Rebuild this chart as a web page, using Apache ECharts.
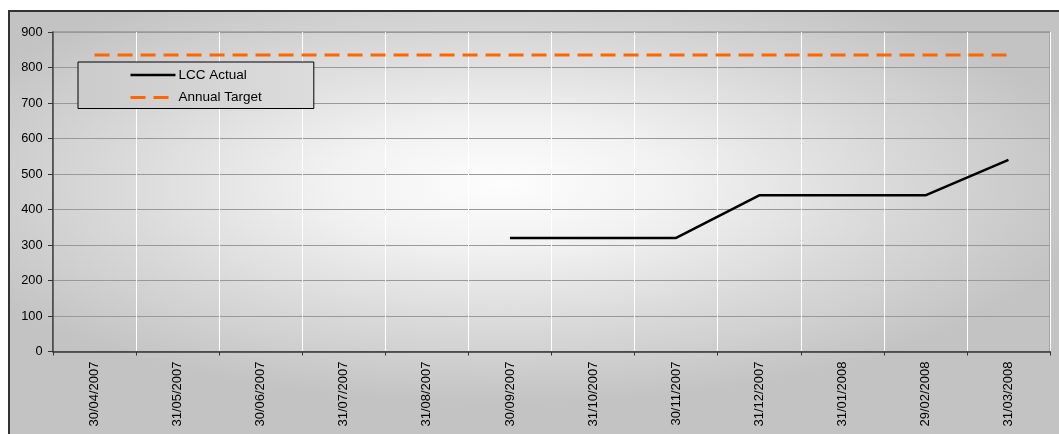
<!DOCTYPE html>
<html>
<head>
<meta charset="utf-8">
<script src="https://cdn.jsdelivr.net/npm/echarts@6/dist/echarts.min.js"></script>
<style>
  html, body { margin: 0; padding: 0; width: 1059px; height: 434px; overflow: hidden; background: #ffffff; }
  #frame {
    position: absolute; left: 8px; top: 10px; width: 1080px; height: 460px;
    border-top: 2px solid #333333; border-left: 2px solid #333333;
    background: radial-gradient(ellipse 600px 220px at 492px 172px, #fdfdfd 0%, #f2f2f2 28%, #d9d9d9 65%, #c3c3c3 100%);
  }
  #chart { position: absolute; left: 0; top: 0; width: 1059px; height: 434px; }
</style>
</head>
<body>
<div id="frame"></div>
<div id="chart"></div>
<script>
// Month-end reporting dates
const categories = ['30/04/2007', '31/05/2007', '30/06/2007', '31/07/2007', '31/08/2007', '30/09/2007',
                    '31/10/2007', '30/11/2007', '31/12/2007', '31/01/2008', '29/02/2008', '31/03/2008'];
// Cumulative LCC figures (no data before September)
const lccActual = [null, null, null, null, null, 320, 320, 320, 440, 440, 440, 540];
// Annual target, flat across the year
const annualTarget = [835, 835, 835, 835, 835, 835, 835, 835, 835, 835, 835, 835];
const yTicks = { min: 0, max: 900, interval: 100 };

const chart = echarts.init(document.getElementById('chart'), null, { renderer: 'canvas' });
const font = 'Liberation Sans, Arial, sans-serif';

chart.setOption({
  animation: false,
  backgroundColor: 'transparent',
  textStyle: { fontFamily: font },
  grid: {
    left: 53, top: 32, right: 9, bottom: 82.5,
    show: true, borderColor: '#808080', borderWidth: 1, backgroundColor: 'transparent'
  },
  legend: {
    orient: 'vertical',
    left: 78, top: 62,
    padding: [6, 52, 4, 51],
    itemWidth: 45, itemHeight: 14, itemGap: 8.5,
    borderColor: '#000000', borderWidth: 1,
    backgroundColor: {
      type: 'linear', x: 0, y: 0, x2: 1, y2: 0,
      colorStops: [{ offset: 0, color: '#cbcbcb' }, { offset: 1, color: '#dcdcdc' }]
    },
    itemStyle: { opacity: 0 },
    textStyle: { fontFamily: font, fontSize: 13.5, color: '#000000', padding: [0, 0, 0, -2] },
    data: [
      { name: 'LCC Actual', lineStyle: { width: 2.5 } },
      { name: 'Annual Target', lineStyle: { width: 3 } }
    ]
  },
  xAxis: {
    type: 'category',
    data: categories,
    boundaryGap: true,
    axisLine: { lineStyle: { color: '#333333', width: 1.5 } },
    axisTick: { show: true, length: 4, lineStyle: { color: '#333333' } },
    axisLabel: { rotate: 90, margin: 10, fontSize: 13, color: '#000000', fontFamily: font },
    splitLine: { show: true, lineStyle: { color: '#ffffff', width: 1 } }
  },
  yAxis: {
    type: 'value',
    min: yTicks.min, max: yTicks.max, interval: yTicks.interval,
    axisLine: { show: true, lineStyle: { color: '#333333', width: 1.5 } },
    axisTick: { show: true, length: 5, lineStyle: { color: '#333333' } },
    axisLabel: { margin: 10.5, fontSize: 12.8, color: '#000000', fontFamily: font },
    splitLine: { show: true, lineStyle: { color: '#999999', width: 1.2 } }
  },
  series: [
    {
      name: 'LCC Actual',
      type: 'line',
      data: lccActual,
      symbol: 'none',
      connectNulls: false,
      lineStyle: { color: '#000000', width: 2.5 },
      itemStyle: { color: '#000000' }
    },
    {
      name: 'Annual Target',
      type: 'line',
      data: annualTarget,
      symbol: 'none',
      lineStyle: { color: '#ff6600', width: 3, type: [15, 8] },
      itemStyle: { color: '#ff6600' }
    }
  ]
});
</script>
</body>
</html>
